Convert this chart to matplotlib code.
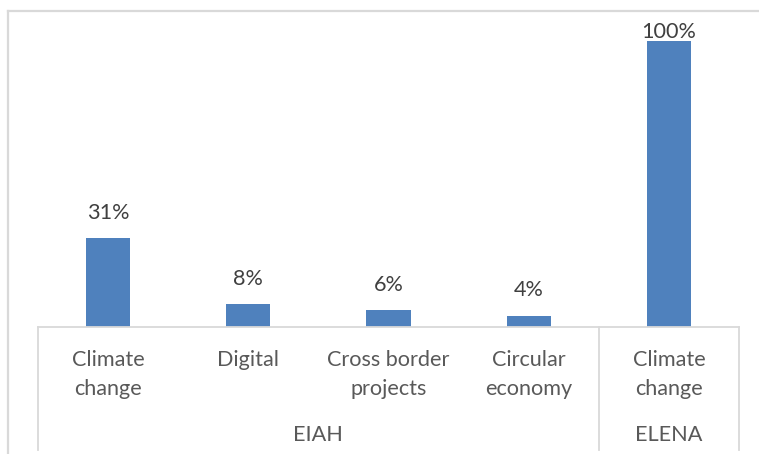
import matplotlib
matplotlib.use("Agg")
import matplotlib.pyplot as plt
from matplotlib.transforms import blended_transform_factory
from matplotlib.lines import Line2D

# Data
programmes = ["EIAH", "EIAH", "EIAH", "EIAH", "ELENA"]
categories = ["Climate\nchange", "Digital", "Cross border\nprojects", "Circular\neconomy", "Climate\nchange"]
shares = [31, 8, 6, 4, 100]
group_names = ["EIAH", "ELENA"]

W, H = 759, 454
DPI = 100
fig = plt.figure(figsize=(W / DPI, H / DPI), dpi=DPI)
fig.patch.set_facecolor("white")

FONT = ["Lato", "DejaVu Sans"]
FS = 15.6
BAR = "#4f81bd"
GRID = "#d9d9d9"
TXT = "#595959"
VAL = "#404040"

def px(x, y):
    return x / W, 1 - y / H

# plot area in pixel coordinates
x0, x1 = 38, 739
ybase, ytop = 327, 41
ax = fig.add_axes([x0 / W, (H - ybase) / H, (x1 - x0) / W, (ybase - ytop) / H])
n = len(shares)
xs = list(range(n))
ymax = 100
ax.bar(xs, shares, width=0.314, color=BAR, zorder=2)
ax.set_xlim(-0.5, n - 0.5)
ax.set_ylim(0, ymax)
ax.axis("off")

for x, v in zip(xs, shares):
    # labels on the tallest bar are pushed down to stay inside the chart
    off = -0.5 if v >= 0.95 * ymax else 11
    ax.annotate(f"{v}%", (x, v), xytext=(0, off), textcoords="offset points",
                ha="center", va="bottom", fontsize=FS, color=VAL,
                family=FONT, annotation_clip=False)

# outer chart border
fig.add_artist(Line2D([px(8, 0)[0], px(8, 0)[0]], [px(0, 11)[1], 0],
                      color=GRID, lw=1.6, transform=fig.transFigure))
fig.add_artist(Line2D([px(8, 0)[0], 1], [px(0, 11)[1], px(0, 11)[1]],
                      color=GRID, lw=1.6, transform=fig.transFigure))

# category axis line
fig.add_artist(Line2D([px(x0, 0)[0], px(x1, 0)[0]], [px(0, ybase)[1]] * 2,
                      color=GRID, lw=1.3, transform=fig.transFigure))

# group boundaries derived from programme list
bounds = [0]
for i in range(1, n):
    if programmes[i] != programmes[i - 1]:
        bounds.append(i)
bounds.append(n)

trans = blended_transform_factory(ax.transData, fig.transFigure)
for b in bounds:
    xb = b - 0.5
    fig.add_artist(Line2D([xb, xb], [px(0, ybase)[1], px(0, 450)[1]],
                          color=GRID, lw=1.3, transform=trans))

for x, lab in zip(xs, categories):
    ax.text(x, px(0, 350)[1], lab, transform=trans, ha="center", va="top",
            fontsize=FS, color=TXT, family=FONT, linespacing=1.55)

for gname, a, b in zip(group_names, bounds[:-1], bounds[1:]):
    ax.text((a + b - 1) / 2, px(0, 435)[1], gname, transform=trans,
            ha="center", va="center", fontsize=FS, color=TXT, family=FONT)

fig.savefig("out.png", dpi=DPI)
